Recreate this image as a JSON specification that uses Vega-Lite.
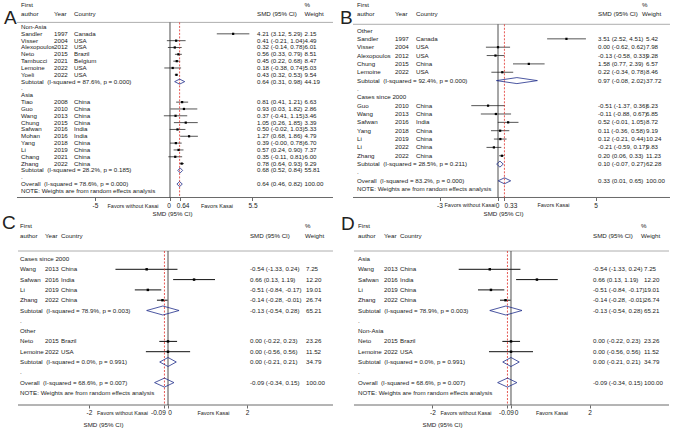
{
"$schema": "https://vega.github.io/schema/vega-lite/v6.json",
"padding": 0,
"spacing": 0,
"bounds": "flush",
"columns": 2,
"background": "white",
"config": {
  "view": {"stroke": null},
  "font": "Liberation Sans",
  "text": {"font": "Liberation Sans", "fontSize": 6.2, "align": "left", "baseline": "middle", "color": "#222"},
  "axis": {"grid": false}
},
"datasets": {
"A": [
{"r":0,"type":"group","label":"Non-Asia"},
{"r":1,"type":"study","label":"Sandler","year":"1997","country":"Canada","es":4.21,"lo":3.12,"hi":5.29,"ci":"4.21 (3.12, 5.29)","w":"2.15"},
{"r":2,"type":"study","label":"Visser","year":"2004","country":"USA","es":0.41,"lo":-0.21,"hi":1.04,"ci":"0.41 (-0.21, 1.04)","w":"4.49"},
{"r":3,"type":"study","label":"Alexopoulos","year":"2012","country":"USA","es":0.32,"lo":-0.14,"hi":0.78,"ci":"0.32 (-0.14, 0.78)","w":"6.01"},
{"r":4,"type":"study","label":"Neto","year":"2015","country":"Brazil","es":0.56,"lo":0.33,"hi":0.79,"ci":"0.56 (0.33, 0.79)","w":"8.51"},
{"r":5,"type":"study","label":"Tambucci","year":"2021","country":"Belgium","es":0.45,"lo":0.22,"hi":0.68,"ci":"0.45 (0.22, 0.68)","w":"8.47"},
{"r":6,"type":"study","label":"Lemoine","year":"2022","country":"USA","es":0.18,"lo":-0.38,"hi":0.74,"ci":"0.18 (-0.38, 0.74)","w":"5.03"},
{"r":7,"type":"study","label":"Yoeli","year":"2022","country":"USA","es":0.43,"lo":0.32,"hi":0.53,"ci":"0.43 (0.32, 0.53)","w":"9.54"},
{"r":8,"type":"sub","label":"Subtotal\u00a0 (I-squared = 87.6%, p = 0.000)","es":0.64,"lo":0.31,"hi":0.98,"ci":"0.64 (0.31, 0.98)","w":"44.19"},
{"r":9,"type":"blank","label":"."},
{"r":10,"type":"group","label":"Asia"},
{"r":11,"type":"study","label":"Tiao","year":"2008","country":"China","es":0.81,"lo":0.41,"hi":1.21,"ci":"0.81 (0.41, 1.21)","w":"6.63"},
{"r":12,"type":"study","label":"Guo","year":"2010","country":"China","es":0.93,"lo":0.03,"hi":1.82,"ci":"0.93 (0.03, 1.82)","w":"2.86"},
{"r":13,"type":"study","label":"Wang","year":"2013","country":"China","es":0.37,"lo":-0.41,"hi":1.15,"ci":"0.37 (-0.41, 1.15)","w":"3.46"},
{"r":14,"type":"study","label":"Chung","year":"2015","country":"China","es":1.05,"lo":0.26,"hi":1.85,"ci":"1.05 (0.26, 1.85)","w":"3.39"},
{"r":15,"type":"study","label":"Safwan","year":"2016","country":"India","es":0.50,"lo":-0.02,"hi":1.03,"ci":"0.50 (-0.02, 1.03)","w":"5.33"},
{"r":16,"type":"study","label":"Mohan","year":"2016","country":"India","es":1.27,"lo":0.68,"hi":1.86,"ci":"1.27 (0.68, 1.86)","w":"4.79"},
{"r":17,"type":"study","label":"Yang","year":"2018","country":"China","es":0.39,"lo":0.00,"hi":0.78,"ci":"0.39 (-0.00, 0.78)","w":"6.70"},
{"r":18,"type":"study","label":"Li","year":"2019","country":"China","es":0.57,"lo":0.24,"hi":0.90,"ci":"0.57 (0.24, 0.90)","w":"7.37"},
{"r":19,"type":"study","label":"Chang","year":"2021","country":"China","es":0.35,"lo":-0.11,"hi":0.81,"ci":"0.35 (-0.11, 0.81)","w":"6.00"},
{"r":20,"type":"study","label":"Zhang","year":"2022","country":"China","es":0.78,"lo":0.64,"hi":0.93,"ci":"0.78 (0.64, 0.93)","w":"9.29"},
{"r":21,"type":"sub","label":"Subtotal\u00a0 (I-squared = 28.2%, p = 0.185)","es":0.68,"lo":0.52,"hi":0.84,"ci":"0.68 (0.52, 0.84)","w":"55.81"},
{"r":22,"type":"blank","label":"."},
{"r":23,"type":"overall","label":"Overall\u00a0 (I-squared = 78.6%, p = 0.000)","es":0.64,"lo":0.46,"hi":0.82,"ci":"0.64 (0.46, 0.82)","w":"100.00"},
{"r":24,"type":"note","label":"NOTE: Weights are from random effects analysis"}
],
"B": [
{"r":0,"type":"group","label":"Other"},
{"r":1,"type":"study","label":"Sandler","year":"1997","country":"Canada","es":3.51,"lo":2.52,"hi":4.51,"ci":"3.51 (2.52, 4.51)","w":"5.42"},
{"r":2,"type":"study","label":"Visser","year":"2004","country":"USA","es":0.00,"lo":-0.62,"hi":0.62,"ci":"0.00 (-0.62, 0.62)","w":"7.98"},
{"r":3,"type":"study","label":"Alexopoulos","year":"2012","country":"USA","es":-0.13,"lo":-0.58,"hi":0.33,"ci":"-0.13 (-0.58, 0.33)","w":"9.28"},
{"r":4,"type":"study","label":"Chung","year":"2015","country":"China","es":1.58,"lo":0.77,"hi":2.39,"ci":"1.58 (0.77, 2.39)","w":"6.57"},
{"r":5,"type":"study","label":"Lemoine","year":"2022","country":"USA","es":0.22,"lo":-0.34,"hi":0.78,"ci":"0.22 (-0.34, 0.78)","w":"8.46"},
{"r":6,"type":"sub","label":"Subtotal\u00a0 (I-squared = 92.4%, p = 0.000)","es":0.97,"lo":-0.08,"hi":2.02,"ci":"0.97 (-0.08, 2.02)","w":"37.72"},
{"r":7,"type":"blank","label":"."},
{"r":8,"type":"group","label":"Cases since 2000"},
{"r":9,"type":"study","label":"Guo","year":"2010","country":"China","es":-0.51,"lo":-1.37,"hi":0.36,"ci":"-0.51 (-1.37, 0.36)","w":"6.23"},
{"r":10,"type":"study","label":"Wang","year":"2013","country":"China","es":-0.11,"lo":-0.88,"hi":0.67,"ci":"-0.11 (-0.88, 0.67)","w":"6.85"},
{"r":11,"type":"study","label":"Safwan","year":"2016","country":"India","es":0.52,"lo":-0.01,"hi":1.05,"ci":"0.52 (-0.01, 1.05)","w":"8.72"},
{"r":12,"type":"study","label":"Yang","year":"2018","country":"China","es":0.11,"lo":-0.36,"hi":0.58,"ci":"0.11 (-0.36, 0.58)","w":"9.19"},
{"r":13,"type":"study","label":"Li","year":"2019","country":"China","es":0.12,"lo":-0.21,"hi":0.44,"ci":"0.12 (-0.21, 0.44)","w":"10.24"},
{"r":14,"type":"study","label":"Li","year":"2022","country":"China","es":-0.21,"lo":-0.59,"hi":0.17,"ci":"-0.21 (-0.59, 0.17)","w":"9.83"},
{"r":15,"type":"study","label":"Zhang","year":"2022","country":"China","es":0.20,"lo":0.06,"hi":0.33,"ci":"0.20 (0.06, 0.33)","w":"11.23"},
{"r":16,"type":"sub","label":"Subtotal\u00a0 (I-squared = 28.5%, p = 0.211)","es":0.10,"lo":-0.07,"hi":0.27,"ci":"0.10 (-0.07, 0.27)","w":"62.28"},
{"r":17,"type":"blank","label":"."},
{"r":18,"type":"overall","label":"Overall\u00a0 (I-squared = 83.2%, p = 0.000)","es":0.33,"lo":0.01,"hi":0.65,"ci":"0.33 (0.01, 0.65)","w":"100.00"},
{"r":19,"type":"note","label":"NOTE: Weights are from random effects analysis"}
],
"C": [
{"r":0,"type":"group","label":"Cases since 2000"},
{"r":1,"type":"study","label":"Wang","year":"2013","country":"China","es":-0.54,"lo":-1.33,"hi":0.24,"ci":"-0.54 (-1.33, 0.24)","w":"7.25"},
{"r":2,"type":"study","label":"Safwan","year":"2016","country":"India","es":0.66,"lo":0.13,"hi":1.19,"ci":"0.66 (0.13, 1.19)","w":"12.20"},
{"r":3,"type":"study","label":"Li","year":"2019","country":"China","es":-0.51,"lo":-0.84,"hi":-0.17,"ci":"-0.51 (-0.84, -0.17)","w":"19.01"},
{"r":4,"type":"study","label":"Zhang","year":"2022","country":"China","es":-0.14,"lo":-0.28,"hi":-0.01,"ci":"-0.14 (-0.28, -0.01)","w":"26.74"},
{"r":5,"type":"sub","label":"Subtotal\u00a0 (I-squared = 78.9%, p = 0.003)","es":-0.13,"lo":-0.54,"hi":0.28,"ci":"-0.13 (-0.54, 0.28)","w":"65.21"},
{"r":6,"type":"blank","label":"."},
{"r":7,"type":"group","label":"Other"},
{"r":8,"type":"study","label":"Neto","year":"2015","country":"Brazil","es":0.00,"lo":-0.22,"hi":0.23,"ci":"0.00 (-0.22, 0.23)","w":"23.26"},
{"r":9,"type":"study","label":"Lemoine","year":"2022","country":"USA","es":0.00,"lo":-0.56,"hi":0.56,"ci":"0.00 (-0.56, 0.56)","w":"11.52"},
{"r":10,"type":"sub","label":"Subtotal\u00a0 (I-squared = 0.0%, p = 0.991)","es":0.00,"lo":-0.21,"hi":0.21,"ci":"0.00 (-0.21, 0.21)","w":"34.79"},
{"r":11,"type":"blank","label":"."},
{"r":12,"type":"overall","label":"Overall\u00a0 (I-squared = 68.6%, p = 0.007)","es":-0.09,"lo":-0.34,"hi":0.15,"ci":"-0.09 (-0.34, 0.15)","w":"100.00"},
{"r":13,"type":"note","label":"NOTE: Weights are from random effects analysis"}
],
"D": [
{"r":0,"type":"group","label":"Asia"},
{"r":1,"type":"study","label":"Wang","year":"2013","country":"China","es":-0.54,"lo":-1.33,"hi":0.24,"ci":"-0.54 (-1.33, 0.24)","w":"7.25"},
{"r":2,"type":"study","label":"Safwan","year":"2016","country":"India","es":0.66,"lo":0.13,"hi":1.19,"ci":"0.66 (0.13, 1.19)","w":"12.20"},
{"r":3,"type":"study","label":"Li","year":"2019","country":"China","es":-0.51,"lo":-0.84,"hi":-0.17,"ci":"-0.51 (-0.84, -0.17)","w":"19.01"},
{"r":4,"type":"study","label":"Zhang","year":"2022","country":"China","es":-0.14,"lo":-0.28,"hi":-0.01,"ci":"-0.14 (-0.28, -0.01)","w":"26.74"},
{"r":5,"type":"sub","label":"Subtotal\u00a0 (I-squared = 78.9%, p = 0.003)","es":-0.13,"lo":-0.54,"hi":0.28,"ci":"-0.13 (-0.54, 0.28)","w":"65.21"},
{"r":6,"type":"blank","label":"."},
{"r":7,"type":"group","label":"Non-Asia"},
{"r":8,"type":"study","label":"Neto","year":"2015","country":"Brazil","es":0.00,"lo":-0.22,"hi":0.23,"ci":"0.00 (-0.22, 0.23)","w":"23.26"},
{"r":9,"type":"study","label":"Lemoine","year":"2022","country":"USA","es":0.00,"lo":-0.56,"hi":0.56,"ci":"0.00 (-0.56, 0.56)","w":"11.52"},
{"r":10,"type":"sub","label":"Subtotal\u00a0 (I-squared = 0.0%, p = 0.991)","es":0.00,"lo":-0.21,"hi":0.21,"ci":"0.00 (-0.21, 0.21)","w":"34.79"},
{"r":11,"type":"blank","label":"."},
{"r":12,"type":"overall","label":"Overall\u00a0 (I-squared = 68.6%, p = 0.007)","es":-0.09,"lo":-0.34,"hi":0.15,"ci":"-0.09 (-0.34, 0.15)","w":"100.00"},
{"r":13,"type":"note","label":"NOTE: Weights are from random effects analysis"}
]
},
"concat": [
{
 "width": 336, "height": 216,
 "data": {"name": "A"},
 "encoding": {"y": {"field": "r", "type": "quantitative", "scale": {"domain": [-3.9531, 27.672], "reverse": true, "nice": false, "zero": false}, "axis": null}},
 "layer": [
  {"transform": [{"filter": "datum.type == 'study'"}], "mark": {"type": "rule", "color": "#555", "strokeWidth": 1},
   "encoding": {"x": {"field": "lo", "type": "quantitative", "scale": {"domain": [-11.3333, 11.0667], "nice": false, "zero": false},
      "axis": {"values": [-5, 0, 0.64, 5.5], "labelExpr": "toString(datum.value)", "labelOffset": {"condition": [{"test": "datum.value == 0", "value": -1.5}, {"test": "datum.value == 0.64", "value": 3}], "value": 0}, "domain": false, "grid": false, "tickSize": 3, "tickColor": "#444", "tickWidth": 0.8, "labelFontSize": 6.5, "labelColor": "#222", "labelPadding": 1.5, "labelOverlap": false, "labelBound": false, "labelFlush": false, "offset": -18.5, "title": "SMD (95% CI)", "titleFontSize": 6.2, "titleFontWeight": "normal", "titleColor": "#222", "titlePadding": 2, "titleX": 172, "labelFont": "Liberation Sans", "titleFont": "Liberation Sans"}},
    "x2": {"field": "hi"}}},
  {"transform": [{"filter": "datum.type == 'note'"}], "mark": {"type": "rule", "color": "#444", "strokeWidth": 0.8},
   "encoding": {"x": {"datum": -10.2}, "x2": {"datum": 10.8667}, "y": {"datum": 24.9634, "axis": null}}},
  {"transform": [{"filter": "datum.type == 'note'"}], "mark": {"type": "rule", "color": "#999", "strokeWidth": 0.8},
   "encoding": {"x": {"datum": -10.2}, "x2": {"datum": 10.8667}, "y": {"datum": -0.6735, "axis": null}}},
  {"transform": [{"filter": "datum.type == 'note'"}], "mark": {"type": "rule", "color": "#222", "strokeWidth": 0.8},
   "encoding": {"x": {"datum": 0}, "y": {"datum": -0.6735, "axis": null}, "y2": {"datum": 24.9634}}},
  {"transform": [{"filter": "datum.type == 'overall'"}], "mark": {"type": "rule", "color": "#e0302a", "strokeWidth": 0.8, "strokeDash": [2, 1.5]},
   "encoding": {"x": {"field": "es", "type": "quantitative"}, "y": {"datum": -0.6735, "axis": null}, "y2": {"datum": 24.9634}}},
  {"transform": [{"filter": "datum.type == 'sub' || datum.type == 'overall'"}], "mark": {"type": "rule", "color": "#1f2d8a", "strokeWidth": 0.8, "y2Offset": -2.5},
   "encoding": {"x": {"field": "lo", "type": "quantitative"}, "x2": {"field": "es"}, "y2": {"field": "r"}}},
  {"transform": [{"filter": "datum.type == 'sub' || datum.type == 'overall'"}], "mark": {"type": "rule", "color": "#1f2d8a", "strokeWidth": 0.8, "yOffset": -2.5},
   "encoding": {"x": {"field": "es", "type": "quantitative"}, "x2": {"field": "hi"}, "y2": {"field": "r"}}},
  {"transform": [{"filter": "datum.type == 'sub' || datum.type == 'overall'"}], "mark": {"type": "rule", "color": "#1f2d8a", "strokeWidth": 0.8, "y2Offset": 2.5},
   "encoding": {"x": {"field": "lo", "type": "quantitative"}, "x2": {"field": "es"}, "y2": {"field": "r"}}},
  {"transform": [{"filter": "datum.type == 'sub' || datum.type == 'overall'"}], "mark": {"type": "rule", "color": "#1f2d8a", "strokeWidth": 0.8, "yOffset": 2.5},
   "encoding": {"x": {"field": "es", "type": "quantitative"}, "x2": {"field": "hi"}, "y2": {"field": "r"}}},
  {"transform": [{"filter": "datum.type == 'study'"}], "mark": {"type": "square", "color": "#000", "size": 5, "opacity": 1},
   "encoding": {"x": {"field": "es", "type": "quantitative"}}},
  {"mark": "text", "encoding": {"x": {"datum": -9.9333}, "text": {"field": "label"}}},
  {"transform": [{"filter": "isValid(datum.year)"}], "mark": "text", "encoding": {"x": {"datum": -7.7333}, "text": {"field": "year"}}},
  {"transform": [{"filter": "isValid(datum.country)"}], "mark": "text", "encoding": {"x": {"datum": -6.4}, "text": {"field": "country"}}},
  {"transform": [{"filter": "isValid(datum.ci)"}], "mark": "text", "encoding": {"x": {"datum": 5.8}, "text": {"field": "ci"}}},
  {"transform": [{"filter": "isValid(datum.w)"}], "mark": "text", "encoding": {"x": {"datum": 8.9667}, "text": {"field": "w"}}},
  {"transform": [{"filter": "datum.type == 'note'"}], "mark": "text", "encoding": {"x": {"datum": -9.9333}, "y": {"datum": -3.2211, "axis": null}, "text": {"value": "First"}}},
  {"transform": [{"filter": "datum.type == 'note'"}], "mark": "text", "encoding": {"x": {"datum": -9.9333}, "y": {"datum": -1.8302, "axis": null}, "text": {"value": "author"}}},
  {"transform": [{"filter": "datum.type == 'note'"}], "mark": "text", "encoding": {"x": {"datum": -7.7333}, "y": {"datum": -1.8302, "axis": null}, "text": {"value": "Year"}}},
  {"transform": [{"filter": "datum.type == 'note'"}], "mark": "text", "encoding": {"x": {"datum": -6.4}, "y": {"datum": -1.8302, "axis": null}, "text": {"value": "Country"}}},
  {"transform": [{"filter": "datum.type == 'note'"}], "mark": "text", "encoding": {"x": {"datum": 5.8}, "y": {"datum": -1.8302, "axis": null}, "text": {"value": "SMD (95% CI)"}}},
  {"transform": [{"filter": "datum.type == 'note'"}], "mark": "text", "encoding": {"x": {"datum": 8.9667}, "y": {"datum": -3.2211, "axis": null}, "text": {"value": "%"}}},
  {"transform": [{"filter": "datum.type == 'note'"}], "mark": "text", "encoding": {"x": {"datum": 8.9667}, "y": {"datum": -1.8302, "axis": null}, "text": {"value": "Weight"}}},
  {"transform": [{"filter": "datum.type == 'note'"}], "mark": {"type": "text", "fontSize": 19}, "encoding": {"x": {"datum": -11.0667}, "y": {"datum": -1.3177, "axis": null}, "text": {"value": "A"}}},
  {"transform": [{"filter": "datum.type == 'note'"}], "mark": {"type": "text", "align": "center", "fontSize": 5.5}, "encoding": {"x": {"datum": -2.4667}, "y": {"datum": 26.135, "axis": null}, "text": {"value": "Favors without Kasai"}}},
  {"transform": [{"filter": "datum.type == 'note'"}], "mark": {"type": "text", "align": "center", "fontSize": 5.5}, "encoding": {"x": {"datum": 3.1333}, "y": {"datum": 26.135, "axis": null}, "text": {"value": "Favors Kasai"}}}
 ]
},
{
 "width": 340, "height": 216,
 "data": {"name": "B"},
 "encoding": {"y": {"field": "r", "type": "quantitative", "scale": {"domain": [-3.6527, 22.2156], "reverse": true, "nice": false, "zero": false}, "axis": null}},
 "layer": [
  {"transform": [{"filter": "datum.type == 'study'"}], "mark": {"type": "rule", "color": "#555", "strokeWidth": 1},
   "encoding": {"x": {"field": "lo", "type": "quantitative", "scale": {"domain": [-8.3077, 9.1282], "nice": false, "zero": false},
      "axis": {"values": [-3, 0, 0.33, 5], "labelExpr": "toString(datum.value)", "labelOffset": {"condition": [{"test": "datum.value == 0", "value": -1}, {"test": "datum.value == 0.33", "value": 6}], "value": 0}, "domain": false, "grid": false, "tickSize": 3, "tickColor": "#444", "tickWidth": 0.8, "labelFontSize": 6.5, "labelColor": "#222", "labelPadding": 1.5, "labelOverlap": false, "labelBound": false, "labelFlush": false, "offset": -18.5, "title": "SMD (95% CI)", "titleFontSize": 6.2, "titleFontWeight": "normal", "titleColor": "#222", "titlePadding": 2, "titleX": 167, "labelFont": "Liberation Sans", "titleFont": "Liberation Sans"}},
    "x2": {"field": "hi"}}},
  {"transform": [{"filter": "datum.type == 'note'"}], "mark": {"type": "rule", "color": "#444", "strokeWidth": 0.8},
   "encoding": {"x": {"datum": -7.4359}, "x2": {"datum": 8.8205}, "y": {"datum": 20.0, "axis": null}}},
  {"transform": [{"filter": "datum.type == 'note'"}], "mark": {"type": "rule", "color": "#999", "strokeWidth": 0.8},
   "encoding": {"x": {"datum": -7.4359}, "x2": {"datum": 8.8205}, "y": {"datum": -0.7425, "axis": null}}},
  {"transform": [{"filter": "datum.type == 'note'"}], "mark": {"type": "rule", "color": "#222", "strokeWidth": 0.8},
   "encoding": {"x": {"datum": 0}, "y": {"datum": -0.7425, "axis": null}, "y2": {"datum": 20.0}}},
  {"transform": [{"filter": "datum.type == 'overall'"}], "mark": {"type": "rule", "color": "#e0302a", "strokeWidth": 0.8, "strokeDash": [2, 1.5]},
   "encoding": {"x": {"field": "es", "type": "quantitative"}, "y": {"datum": -0.7425, "axis": null}, "y2": {"datum": 20.0}}},
  {"transform": [{"filter": "datum.type == 'sub' || datum.type == 'overall'"}], "mark": {"type": "rule", "color": "#1f2d8a", "strokeWidth": 0.8, "y2Offset": -3},
   "encoding": {"x": {"field": "lo", "type": "quantitative"}, "x2": {"field": "es"}, "y2": {"field": "r"}}},
  {"transform": [{"filter": "datum.type == 'sub' || datum.type == 'overall'"}], "mark": {"type": "rule", "color": "#1f2d8a", "strokeWidth": 0.8, "yOffset": -3},
   "encoding": {"x": {"field": "es", "type": "quantitative"}, "x2": {"field": "hi"}, "y2": {"field": "r"}}},
  {"transform": [{"filter": "datum.type == 'sub' || datum.type == 'overall'"}], "mark": {"type": "rule", "color": "#1f2d8a", "strokeWidth": 0.8, "y2Offset": 3},
   "encoding": {"x": {"field": "lo", "type": "quantitative"}, "x2": {"field": "es"}, "y2": {"field": "r"}}},
  {"transform": [{"filter": "datum.type == 'sub' || datum.type == 'overall'"}], "mark": {"type": "rule", "color": "#1f2d8a", "strokeWidth": 0.8, "yOffset": 3},
   "encoding": {"x": {"field": "es", "type": "quantitative"}, "x2": {"field": "hi"}, "y2": {"field": "r"}}},
  {"transform": [{"filter": "datum.type == 'study'"}], "mark": {"type": "square", "color": "#000", "size": 5, "opacity": 1},
   "encoding": {"x": {"field": "es", "type": "quantitative"}}},
  {"mark": "text", "encoding": {"x": {"datum": -7.2308}, "text": {"field": "label"}}},
  {"transform": [{"filter": "isValid(datum.year)"}], "mark": "text", "encoding": {"x": {"datum": -5.2821}, "text": {"field": "year"}}},
  {"transform": [{"filter": "isValid(datum.country)"}], "mark": "text", "encoding": {"x": {"datum": -4.2051}, "text": {"field": "country"}}},
  {"transform": [{"filter": "isValid(datum.ci)"}], "mark": "text", "encoding": {"x": {"datum": 5.1282}, "text": {"field": "ci"}}},
  {"transform": [{"filter": "isValid(datum.w)"}], "mark": "text", "encoding": {"x": {"datum": 7.5897}, "text": {"field": "w"}}},
  {"transform": [{"filter": "datum.type == 'note'"}], "mark": "text", "encoding": {"x": {"datum": -7.2308}, "y": {"datum": -3.0539, "axis": null}, "text": {"value": "First"}}},
  {"transform": [{"filter": "datum.type == 'note'"}], "mark": "text", "encoding": {"x": {"datum": -7.2308}, "y": {"datum": -1.94, "axis": null}, "text": {"value": "author"}}},
  {"transform": [{"filter": "datum.type == 'note'"}], "mark": "text", "encoding": {"x": {"datum": -5.2821}, "y": {"datum": -1.94, "axis": null}, "text": {"value": "Year"}}},
  {"transform": [{"filter": "datum.type == 'note'"}], "mark": "text", "encoding": {"x": {"datum": -4.2051}, "y": {"datum": -1.94, "axis": null}, "text": {"value": "Country"}}},
  {"transform": [{"filter": "datum.type == 'note'"}], "mark": "text", "encoding": {"x": {"datum": 5.1282}, "y": {"datum": -1.94, "axis": null}, "text": {"value": "SMD (95% CI)"}}},
  {"transform": [{"filter": "datum.type == 'note'"}], "mark": "text", "encoding": {"x": {"datum": 7.3846}, "y": {"datum": -3.0539, "axis": null}, "text": {"value": "%"}}},
  {"transform": [{"filter": "datum.type == 'note'"}], "mark": "text", "encoding": {"x": {"datum": 7.3846}, "y": {"datum": -1.94, "axis": null}, "text": {"value": "Weight"}}},
  {"transform": [{"filter": "datum.type == 'note'"}], "mark": {"type": "text", "fontSize": 19}, "encoding": {"x": {"datum": -8.1026}, "y": {"datum": -1.497, "axis": null}, "text": {"value": "B"}}},
  {"transform": [{"filter": "datum.type == 'note'"}], "mark": {"type": "text", "align": "center", "fontSize": 5.5}, "encoding": {"x": {"datum": -1.4359}, "y": {"datum": 20.958, "axis": null}, "text": {"value": "Favors without Kasai"}}},
  {"transform": [{"filter": "datum.type == 'note'"}], "mark": {"type": "text", "align": "center", "fontSize": 5.5}, "encoding": {"x": {"datum": 2.8462}, "y": {"datum": 20.958, "axis": null}, "text": {"value": "Favors Kasai"}}}
 ]
},
{
 "width": 336, "height": 216,
 "data": {"name": "C"},
 "encoding": {"y": {"field": "r", "type": "quantitative", "scale": {"domain": [-4.1748, 16.7961], "reverse": true, "nice": false, "zero": false}, "axis": null}},
 "layer": [
  {"transform": [{"filter": "datum.type == 'study'"}], "mark": {"type": "rule", "color": "#111", "strokeWidth": 1},
   "encoding": {"x": {"field": "lo", "type": "quantitative", "scale": {"domain": [-4.2532, 4.2532], "nice": false, "zero": false},
      "axis": {"values": [-2, -0.09, 0, 2], "labelExpr": "toString(datum.value)", "labelOffset": {"condition": [{"test": "datum.value == -0.09", "value": -6.5}, {"test": "datum.value == 0", "value": 1.5}], "value": 0}, "domain": false, "grid": false, "tickSize": 3, "tickColor": "#444", "tickWidth": 0.8, "labelFontSize": 6.5, "labelColor": "#222", "labelPadding": 1.5, "labelOverlap": false, "labelBound": false, "labelFlush": false, "offset": -27, "title": "SMD (95% CI)", "titleFontSize": 6.2, "titleFontWeight": "normal", "titleColor": "#222", "titlePadding": 5, "titleX": 103, "labelFont": "Liberation Sans", "titleFont": "Liberation Sans"}},
    "x2": {"field": "hi"}}},
  {"transform": [{"filter": "datum.type == 'note'"}], "mark": {"type": "rule", "color": "#444", "strokeWidth": 0.8},
   "encoding": {"x": {"datum": -3.7975}, "x2": {"datum": 4.1772}, "y": {"datum": 14.1748, "axis": null}}},
  {"transform": [{"filter": "datum.type == 'note'"}], "mark": {"type": "rule", "color": "#999", "strokeWidth": 0.8},
   "encoding": {"x": {"datum": -3.7975}, "x2": {"datum": 4.1772}, "y": {"datum": -0.7767, "axis": null}}},
  {"transform": [{"filter": "datum.type == 'note'"}], "mark": {"type": "rule", "color": "#222", "strokeWidth": 0.8},
   "encoding": {"x": {"datum": 0}, "y": {"datum": -0.7767, "axis": null}, "y2": {"datum": 14.1748}}},
  {"transform": [{"filter": "datum.type == 'overall'"}], "mark": {"type": "rule", "color": "#e0302a", "strokeWidth": 0.8, "strokeDash": [2, 1.5]},
   "encoding": {"x": {"field": "es", "type": "quantitative"}, "y": {"datum": -0.7767, "axis": null}, "y2": {"datum": 14.1748}}},
  {"transform": [{"filter": "datum.type == 'sub' || datum.type == 'overall'"}], "mark": {"type": "rule", "color": "#1f2d8a", "strokeWidth": 0.8, "y2Offset": -4.5},
   "encoding": {"x": {"field": "lo", "type": "quantitative"}, "x2": {"field": "es"}, "y2": {"field": "r"}}},
  {"transform": [{"filter": "datum.type == 'sub' || datum.type == 'overall'"}], "mark": {"type": "rule", "color": "#1f2d8a", "strokeWidth": 0.8, "yOffset": -4.5},
   "encoding": {"x": {"field": "es", "type": "quantitative"}, "x2": {"field": "hi"}, "y2": {"field": "r"}}},
  {"transform": [{"filter": "datum.type == 'sub' || datum.type == 'overall'"}], "mark": {"type": "rule", "color": "#1f2d8a", "strokeWidth": 0.8, "y2Offset": 4.5},
   "encoding": {"x": {"field": "lo", "type": "quantitative"}, "x2": {"field": "es"}, "y2": {"field": "r"}}},
  {"transform": [{"filter": "datum.type == 'sub' || datum.type == 'overall'"}], "mark": {"type": "rule", "color": "#1f2d8a", "strokeWidth": 0.8, "yOffset": 4.5},
   "encoding": {"x": {"field": "es", "type": "quantitative"}, "x2": {"field": "hi"}, "y2": {"field": "r"}}},
  {"transform": [{"filter": "datum.type == 'study'"}], "mark": {"type": "square", "color": "#000", "size": 6, "opacity": 1},
   "encoding": {"x": {"field": "es", "type": "quantitative"}}},
  {"mark": "text", "encoding": {"x": {"datum": -3.7468}, "text": {"field": "label"}}},
  {"transform": [{"filter": "isValid(datum.year)"}], "mark": "text", "encoding": {"x": {"datum": -3.1139}, "text": {"field": "year"}}},
  {"transform": [{"filter": "isValid(datum.country)"}], "mark": "text", "encoding": {"x": {"datum": -2.7089}, "text": {"field": "country"}}},
  {"transform": [{"filter": "isValid(datum.ci)"}], "mark": "text", "encoding": {"x": {"datum": 2.0759}, "text": {"field": "ci"}}},
  {"transform": [{"filter": "isValid(datum.w)"}], "mark": "text", "encoding": {"x": {"datum": 3.4937}, "text": {"field": "w"}}},
  {"transform": [{"filter": "datum.type == 'note'"}], "mark": "text", "encoding": {"x": {"datum": -3.7468}, "y": {"datum": -3.2039, "axis": null}, "text": {"value": "First"}}},
  {"transform": [{"filter": "datum.type == 'note'"}], "mark": "text", "encoding": {"x": {"datum": -3.7468}, "y": {"datum": -2.233, "axis": null}, "text": {"value": "author"}}},
  {"transform": [{"filter": "datum.type == 'note'"}], "mark": "text", "encoding": {"x": {"datum": -3.1139}, "y": {"datum": -2.233, "axis": null}, "text": {"value": "Year"}}},
  {"transform": [{"filter": "datum.type == 'note'"}], "mark": "text", "encoding": {"x": {"datum": -2.7089}, "y": {"datum": -2.233, "axis": null}, "text": {"value": "Country"}}},
  {"transform": [{"filter": "datum.type == 'note'"}], "mark": "text", "encoding": {"x": {"datum": 2.0759}, "y": {"datum": -2.233, "axis": null}, "text": {"value": "SMD (95% CI)"}}},
  {"transform": [{"filter": "datum.type == 'note'"}], "mark": "text", "encoding": {"x": {"datum": 3.4684}, "y": {"datum": -3.2039, "axis": null}, "text": {"value": "%"}}},
  {"transform": [{"filter": "datum.type == 'note'"}], "mark": "text", "encoding": {"x": {"datum": 3.4684}, "y": {"datum": -2.233, "axis": null}, "text": {"value": "Weight"}}},
  {"transform": [{"filter": "datum.type == 'note'"}], "mark": {"type": "text", "fontSize": 19}, "encoding": {"x": {"datum": -4.2025}, "y": {"datum": -3.4951, "axis": null}, "text": {"value": "C"}}},
  {"transform": [{"filter": "datum.type == 'note'"}], "mark": {"type": "text", "align": "center", "fontSize": 5.5}, "encoding": {"x": {"datum": -1.1519}, "y": {"datum": 14.932, "axis": null}, "text": {"value": "Favors without Kasai"}}},
  {"transform": [{"filter": "datum.type == 'note'"}], "mark": {"type": "text", "align": "center", "fontSize": 5.5}, "encoding": {"x": {"datum": 1.1519}, "y": {"datum": 14.932, "axis": null}, "text": {"value": "Favors Kasai"}}}
 ]
},
{
 "width": 340, "height": 216,
 "data": {"name": "D"},
 "encoding": {"y": {"field": "r", "type": "quantitative", "scale": {"domain": [-4.1748, 16.7961], "reverse": true, "nice": false, "zero": false}, "axis": null}},
 "layer": [
  {"transform": [{"filter": "datum.type == 'study'"}], "mark": {"type": "rule", "color": "#111", "strokeWidth": 1},
   "encoding": {"x": {"field": "lo", "type": "quantitative", "scale": {"domain": [-4.4529, 4.1985], "nice": false, "zero": false},
      "axis": {"values": [-2, -0.09, 0, 2], "labelExpr": "toString(datum.value)", "labelOffset": {"condition": [{"test": "datum.value == -0.09", "value": -1.5}, {"test": "datum.value == 0", "value": 5}], "value": 0}, "domain": false, "grid": false, "tickSize": 3, "tickColor": "#444", "tickWidth": 0.8, "labelFontSize": 6.5, "labelColor": "#222", "labelPadding": 1.5, "labelOverlap": false, "labelBound": false, "labelFlush": false, "offset": -27, "title": "SMD (95% CI)", "titleFontSize": 6.2, "titleFontWeight": "normal", "titleColor": "#222", "titlePadding": 5, "titleX": 106, "labelFont": "Liberation Sans", "titleFont": "Liberation Sans"}},
    "x2": {"field": "hi"}}},
  {"transform": [{"filter": "datum.type == 'note'"}], "mark": {"type": "rule", "color": "#444", "strokeWidth": 0.8},
   "encoding": {"x": {"datum": -3.9949}, "x2": {"datum": 4.0204}, "y": {"datum": 14.1748, "axis": null}}},
  {"transform": [{"filter": "datum.type == 'note'"}], "mark": {"type": "rule", "color": "#999", "strokeWidth": 0.8},
   "encoding": {"x": {"datum": -3.9949}, "x2": {"datum": 4.0204}, "y": {"datum": -0.7767, "axis": null}}},
  {"transform": [{"filter": "datum.type == 'note'"}], "mark": {"type": "rule", "color": "#222", "strokeWidth": 0.8},
   "encoding": {"x": {"datum": 0}, "y": {"datum": -0.7767, "axis": null}, "y2": {"datum": 14.1748}}},
  {"transform": [{"filter": "datum.type == 'overall'"}], "mark": {"type": "rule", "color": "#e0302a", "strokeWidth": 0.8, "strokeDash": [2, 1.5]},
   "encoding": {"x": {"field": "es", "type": "quantitative"}, "y": {"datum": -0.7767, "axis": null}, "y2": {"datum": 14.1748}}},
  {"transform": [{"filter": "datum.type == 'sub' || datum.type == 'overall'"}], "mark": {"type": "rule", "color": "#1f2d8a", "strokeWidth": 0.8, "y2Offset": -4.5},
   "encoding": {"x": {"field": "lo", "type": "quantitative"}, "x2": {"field": "es"}, "y2": {"field": "r"}}},
  {"transform": [{"filter": "datum.type == 'sub' || datum.type == 'overall'"}], "mark": {"type": "rule", "color": "#1f2d8a", "strokeWidth": 0.8, "yOffset": -4.5},
   "encoding": {"x": {"field": "es", "type": "quantitative"}, "x2": {"field": "hi"}, "y2": {"field": "r"}}},
  {"transform": [{"filter": "datum.type == 'sub' || datum.type == 'overall'"}], "mark": {"type": "rule", "color": "#1f2d8a", "strokeWidth": 0.8, "y2Offset": 4.5},
   "encoding": {"x": {"field": "lo", "type": "quantitative"}, "x2": {"field": "es"}, "y2": {"field": "r"}}},
  {"transform": [{"filter": "datum.type == 'sub' || datum.type == 'overall'"}], "mark": {"type": "rule", "color": "#1f2d8a", "strokeWidth": 0.8, "yOffset": 4.5},
   "encoding": {"x": {"field": "es", "type": "quantitative"}, "x2": {"field": "hi"}, "y2": {"field": "r"}}},
  {"transform": [{"filter": "datum.type == 'study'"}], "mark": {"type": "square", "color": "#000", "size": 6, "opacity": 1},
   "encoding": {"x": {"field": "es", "type": "quantitative"}}},
  {"mark": "text", "encoding": {"x": {"datum": -3.8931}, "text": {"field": "label"}}},
  {"transform": [{"filter": "isValid(datum.year)"}], "mark": "text", "encoding": {"x": {"datum": -3.2316}, "text": {"field": "year"}}},
  {"transform": [{"filter": "isValid(datum.country)"}], "mark": "text", "encoding": {"x": {"datum": -2.8244}, "text": {"field": "country"}}},
  {"transform": [{"filter": "isValid(datum.ci)"}], "mark": "text", "encoding": {"x": {"datum": 2.0865}, "text": {"field": "ci"}}},
  {"transform": [{"filter": "isValid(datum.w)"}], "mark": "text", "encoding": {"x": {"datum": 3.3842}, "text": {"field": "w"}}},
  {"transform": [{"filter": "datum.type == 'note'"}], "mark": "text", "encoding": {"x": {"datum": -3.8931}, "y": {"datum": -3.2039, "axis": null}, "text": {"value": "First"}}},
  {"transform": [{"filter": "datum.type == 'note'"}], "mark": "text", "encoding": {"x": {"datum": -3.8931}, "y": {"datum": -2.233, "axis": null}, "text": {"value": "author"}}},
  {"transform": [{"filter": "datum.type == 'note'"}], "mark": "text", "encoding": {"x": {"datum": -3.2316}, "y": {"datum": -2.233, "axis": null}, "text": {"value": "Year"}}},
  {"transform": [{"filter": "datum.type == 'note'"}], "mark": "text", "encoding": {"x": {"datum": -2.8244}, "y": {"datum": -2.233, "axis": null}, "text": {"value": "Country"}}},
  {"transform": [{"filter": "datum.type == 'note'"}], "mark": "text", "encoding": {"x": {"datum": 2.0865}, "y": {"datum": -2.233, "axis": null}, "text": {"value": "SMD (95% CI)"}}},
  {"transform": [{"filter": "datum.type == 'note'"}], "mark": "text", "encoding": {"x": {"datum": 3.3079}, "y": {"datum": -3.2039, "axis": null}, "text": {"value": "%"}}},
  {"transform": [{"filter": "datum.type == 'note'"}], "mark": "text", "encoding": {"x": {"datum": 3.3079}, "y": {"datum": -2.233, "axis": null}, "text": {"value": "Weight"}}},
  {"transform": [{"filter": "datum.type == 'note'"}], "mark": {"type": "text", "fontSize": 19}, "encoding": {"x": {"datum": -4.3257}, "y": {"datum": -3.398, "axis": null}, "text": {"value": "D"}}},
  {"transform": [{"filter": "datum.type == 'note'"}], "mark": {"type": "text", "align": "center", "fontSize": 5.5}, "encoding": {"x": {"datum": -1.145}, "y": {"datum": 14.932, "axis": null}, "text": {"value": "Favors without Kasai"}}},
  {"transform": [{"filter": "datum.type == 'note'"}], "mark": {"type": "text", "align": "center", "fontSize": 5.5}, "encoding": {"x": {"datum": 1.0433}, "y": {"datum": 14.932, "axis": null}, "text": {"value": "Favors Kasai"}}}
 ]
}
]
}
